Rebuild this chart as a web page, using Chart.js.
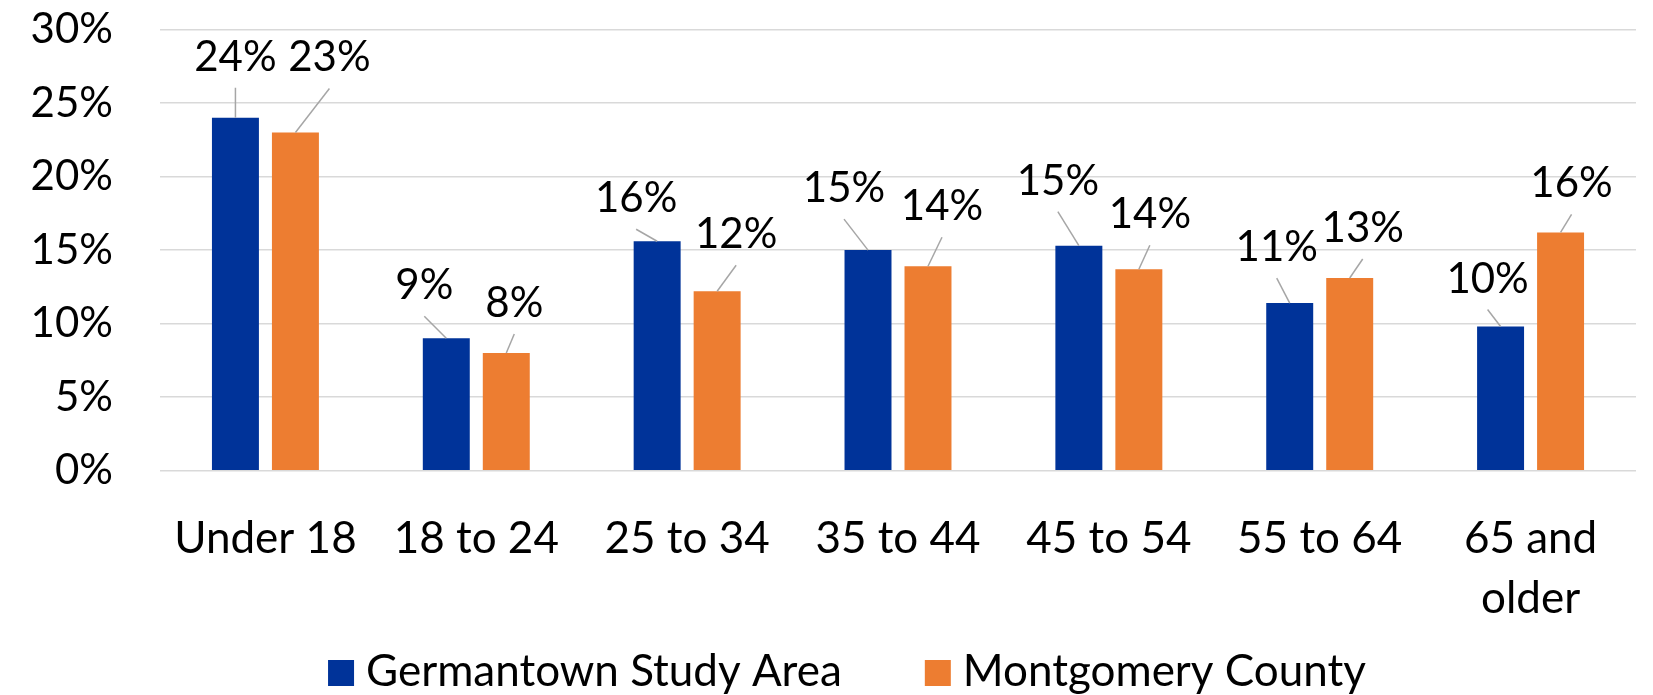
<!DOCTYPE html>
<html>
<head>
<meta charset="utf-8">
<script src="https://cdn.jsdelivr.net/npm/chart.js@4/dist/chart.umd.min.js"></script>
<style>
  html, body { margin: 0; padding: 0; background: #ffffff; }
  #wrap { width: 1653px; height: 695px; position: relative; }
</style>
</head>
<body>
<div id="wrap"><canvas id="c" width="1653" height="695"></canvas></div>
<script>
// ---- Data ----
const categories = ['Under 18', '18 to 24', '25 to 34', '35 to 44', '45 to 54', '55 to 64', ['65 and', 'older']];
const germantown = [24.0, 9.0, 15.6, 15.0, 15.3, 11.4, 9.8];
const montgomery = [23.0, 8.0, 12.2, 13.9, 13.7, 13.1, 16.2];
const seriesNames = ['Germantown Study Area', 'Montgomery County'];
const yTicks = [0, 5, 10, 15, 20, 25, 30];

// ---- Label placement (offsets of label centre from bar top, px) ----
const labelOffsetsBlue = [[0, -62], [-22, -54], [-21, -44], [-24, -63], [-21, -66], [-13, -57], [-13, -49]];
const labelOffsetsOrange = [[34, -76], [8, -51], [19, -58], [14, -61], [11, -56], [13, -51], [11, -50]];

const FONT = 'Lato';
const FS_NUM = 42;   // percent labels
const FS_TXT = 44;   // category + legend text
const LEGEND_CX = 847;
const LEGEND_CY = 672;

const dataLabelPlugin = {
  id: 'dataLabels',
  afterDatasetsDraw(chart) {
    const ctx = chart.ctx;
    const offsets = [labelOffsetsBlue, labelOffsetsOrange];
    chart.data.datasets.forEach((ds, di) => {
      const meta = chart.getDatasetMeta(di);
      meta.data.forEach((bar, i) => {
        const off = offsets[di][i];
        const cx = bar.x + off[0];
        const cy = bar.y + off[1];
        ctx.save();
        ctx.strokeStyle = '#a6a6a6';
        ctx.lineWidth = 1.5;
        ctx.beginPath();
        ctx.moveTo(cx, cy + 32);
        ctx.lineTo(bar.x, bar.y);
        ctx.stroke();
        ctx.fillStyle = '#000000';
        ctx.font = FS_NUM + 'px ' + FONT;
        ctx.textAlign = 'center';
        ctx.textBaseline = 'alphabetic';
        ctx.fillText(Math.round(ds.data[i]) + '%', cx, cy + 15);
        ctx.restore();
      });
    });
  }
};

const legendPlugin = {
  id: 'customLegend',
  afterDraw(chart) {
    const ctx = chart.ctx;
    ctx.save();
    ctx.font = FS_TXT + 'px ' + FONT;
    const box = 26, gapText = 12, gapItem = 83;
    const items = chart.data.datasets.map(ds => ({
      text: ds.label, color: ds.backgroundColor, w: ctx.measureText(ds.label).width
    }));
    let total = 0;
    items.forEach((it, i) => { total += box + gapText + it.w + (i > 0 ? gapItem : 0); });
    let x = LEGEND_CX - total / 2;
    ctx.textAlign = 'left';
    ctx.textBaseline = 'middle';
    items.forEach((it) => {
      ctx.fillStyle = it.color;
      ctx.fillRect(x, LEGEND_CY + 1 - box / 2, box, box);
      ctx.fillStyle = '#000000';
      ctx.fillText(it.text, x + box + gapText, LEGEND_CY);
      x += box + gapText + it.w + gapItem;
    });
    ctx.restore();
  }
};

new Chart(document.getElementById('c'), {
  type: 'bar',
  data: {
    labels: categories,
    datasets: [
      { label: seriesNames[0], data: germantown, backgroundColor: '#003399',
        categoryPercentage: 0.569, barPercentage: 0.783 },
      { label: seriesNames[1], data: montgomery, backgroundColor: '#ED7D31',
        categoryPercentage: 0.569, barPercentage: 0.783 }
    ]
  },
  options: {
    responsive: false,
    animation: false,
    devicePixelRatio: 1,
    layout: { padding: { left: 0, right: 17, top: 29.5, bottom: 0 } },
    plugins: {
      tooltip: { enabled: false },
      legend: { display: false }
    },
    scales: {
      x: {
        grid: { display: false },
        border: { display: false },
        ticks: {
          color: '#000000', padding: 30.3, maxRotation: 0, autoSkip: false,
          font: { family: FONT, size: FS_TXT, lineHeight: 60 / FS_TXT }
        },
        afterFit(scale) { scale.height = 224.3; }
      },
      y: {
        min: 0, max: 30,
        grid: { color: '#d9d9d9', lineWidth: 1.5, drawTicks: false },
        border: { display: false },
        afterBuildTicks(scale) { scale.ticks = yTicks.map(v => ({ value: v })); },
        ticks: {
          color: '#000000', padding: 47,
          font: { family: FONT, size: FS_NUM },
          callback: (v) => v + '%'
        },
        afterFit(scale) { scale.width = 160; scale.paddingTop = 0; scale.paddingBottom = 0; }
      }
    }
  },
  plugins: [dataLabelPlugin, legendPlugin]
});
</script>
</body>
</html>
